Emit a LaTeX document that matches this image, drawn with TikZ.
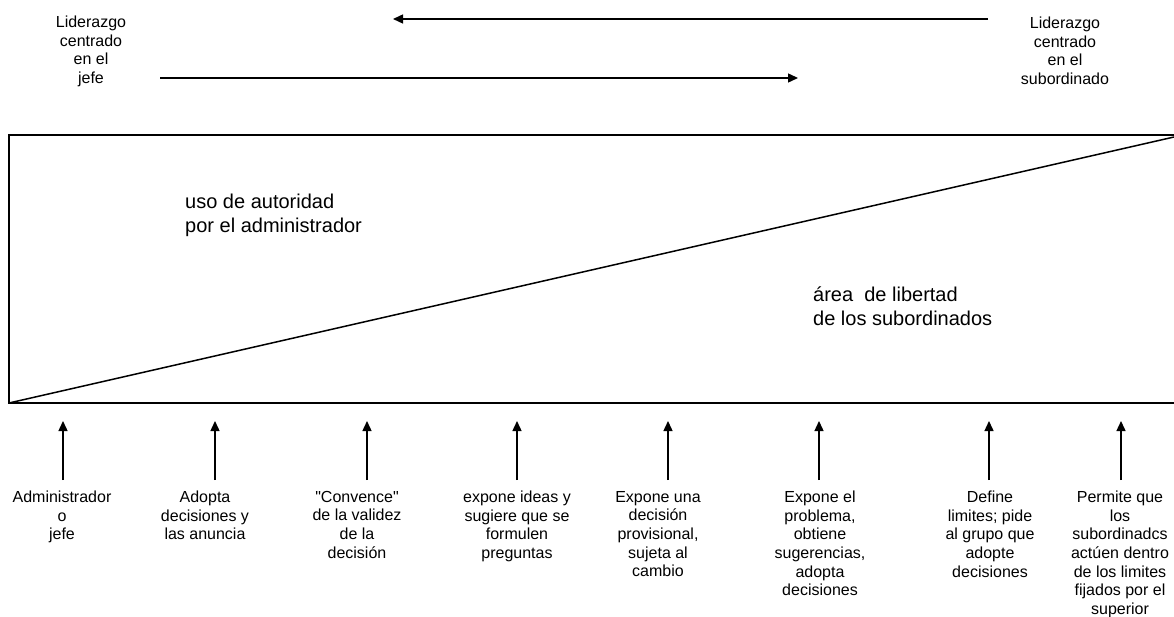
\documentclass[tikz,border=0pt]{standalone}
\usepackage{fontspec}
\setmainfont{Liberation Sans}
\usetikzlibrary{arrows.meta}
\begin{document}
\begin{tikzpicture}[x=1pt,y=-1pt,
  lbl/.style={inner sep=0pt,align=center,font={\fontsize{16}{18.6}\selectfont}},
  big/.style={inner sep=0pt,align=left,anchor=north west,font={\fontsize{20}{24}\selectfont}},
  edge/.style={line width=1.5pt},
  arr/.style={line width=1.4pt,-{Triangle[width=9pt,length=10pt]}}]
\useasboundingbox (0,0) rectangle (1174,617);
% top labels
\node[lbl,anchor=north] (jefe) at (91,16) {Liderazgo\\centrado\\en el\\jefe};
\node[lbl,anchor=north] (sub) at (1065,17) {Liderazgo\\centrado\\en el\\subordinado};
% top arrows
\coordinate (l1s) at (988,19);
\coordinate (l1e) at (393,19);
\coordinate (l2s) at (160,78);
\coordinate (l2e) at (798,78);
\draw[arr] (l1s) -- (l1e);
\draw[arr] (l2s) -- (l2e);
% main triangle/rectangle
\coordinate (tl) at (9,135);
\coordinate (tr) at (1174,135);
\coordinate (bl) at (9,403);
\coordinate (br) at (1174,403);
\coordinate (dg) at (1174,137);
\draw[edge] (tr) -- (tl) -- (bl) -- (br);
\draw[edge] (bl) -- (dg);
\node[big] (uso) at (185,194) {uso de autoridad\\por el administrador};
\node[big] (area) at (813,287) {área\ \ de libertad\\de los subordinados};
% bottom arrows
\foreach \i/\x in {1/63,2/215,3/367,4/517,5/668,6/819,7/989,8/1121}{
  \coordinate (a\i) at (\x,480);
  \coordinate (b\i) at (\x,421);
  \draw[arr] (a\i) -- (b\i);
}
% bottom labels
\node[lbl,anchor=north] (t1) at (62,491) {Administrador\\o\\jefe};
\node[lbl,anchor=north] (t2) at (205,491) {Adopta\\decisiones y\\las anuncia};
\node[lbl,anchor=north] (t3) at (357,491) {\textquotedbl Convence\textquotedbl\\de la validez\\de la\\decisión};
\node[lbl,anchor=north] (t4) at (517,491) {expone ideas y\\sugiere que se\\formulen\\preguntas};
\node[lbl,anchor=north] (t5) at (658,491) {Expone una\\decisión\\provisional,\\sujeta al\\cambio};
\node[lbl,anchor=north] (t6) at (820,491) {Expone el\\problema,\\obtiene\\sugerencias,\\adopta\\decisiones};
\node[lbl,anchor=north] (t7) at (990,491) {Define\\limites; pide\\al grupo que\\adopte\\decisiones};
\node[lbl,anchor=north] (t8) at (1120,491) {Permite que\\los\\subordinadcs\\actúen dentro\\de los limites\\fijados por el\\superior};
\end{tikzpicture}
\end{document}
